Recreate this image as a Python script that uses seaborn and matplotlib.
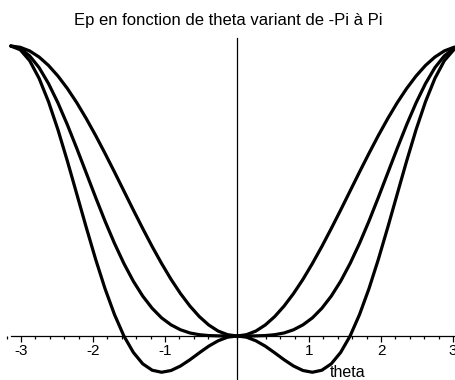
import numpy as np
import pandas as pd
import matplotlib
matplotlib.use("Agg")
import matplotlib.pyplot as plt
import seaborn as sns
from matplotlib.ticker import MultipleLocator

# theta sampled every pi/24 from -pi to pi
theta = [k * np.pi / 24 for k in range(-24, 25)]

# potential energy for the three configurations (positive half, theta = 0 .. pi)
ep_a_half = [0.000, 0.009, 0.034, 0.076, 0.134, 0.207, 0.293, 0.391, 0.500, 0.617, 0.741, 0.869,
             1.000, 1.131, 1.259, 1.383, 1.500, 1.609, 1.707, 1.793, 1.866, 1.924, 1.966, 1.991, 2.000]
ep_b_half = [0.000, 0.000, 0.001, 0.003, 0.009, 0.021, 0.043, 0.077, 0.125, 0.191, 0.275, 0.378,
             0.500, 0.639, 0.792, 0.956, 1.125, 1.294, 1.457, 1.608, 1.741, 1.851, 1.932, 1.983, 2.000]
ep_c_half = [0.000, -0.008, -0.033, -0.070, -0.116, -0.164, -0.207, -0.238, -0.250, -0.236, -0.192, -0.113,
             0.000, 0.148, 0.326, 0.529, 0.750, 0.979, 1.207, 1.423, 1.616, 1.777, 1.899, 1.974, 2.000]

# the curves are even in theta: negative half is the mirror of the positive half
ep_a = ep_a_half[:0:-1] + ep_a_half
ep_b = ep_b_half[:0:-1] + ep_b_half
ep_c = ep_c_half[:0:-1] + ep_c_half

x_ticks = [-3, -2, -1, 1, 2, 3]
title = "Ep en fonction de theta variant de -Pi à Pi"
x_label = "theta"

df = pd.concat([
    pd.DataFrame({"theta": theta, "Ep": ep_a, "courbe": "a"}),
    pd.DataFrame({"theta": theta, "Ep": ep_b, "courbe": "b"}),
    pd.DataFrame({"theta": theta, "Ep": ep_c, "courbe": "c"}),
])

sns.set_theme(style="white")
plt.rcParams["font.family"] = ["Liberation Sans", "DejaVu Sans"]

W, H = 456, 380
fig = plt.figure(figsize=(W / 100, H / 100), dpi=100)
# axes placed in pixel terms: x-axis 336 px from the top, origin 237 px from the left
ax_top = 38
ax = fig.add_axes([0, 0, 1, (H - ax_top) / H])
px_x = 72.0
px_y = 145.0
ax.set_xlim(-237 / px_x, (W - 237) / px_x)
ax.set_ylim(-(H - 336) / px_y, (336 - ax_top) / px_y)

sns.lineplot(data=df, x="theta", y="Ep", hue="courbe", palette=["black"] * 3,
             estimator=None, legend=False, linewidth=2.3, ax=ax)

ax.set_xlabel("")
ax.set_ylabel("")
for s in ["top", "right"]:
    ax.spines[s].set_visible(False)
ax.spines["bottom"].set_position(("data", 0))
ax.spines["left"].set_position(("data", 0))
ax.spines["bottom"].set_bounds(-np.pi, ax.get_xlim()[1])
for s in ["bottom", "left"]:
    ax.spines[s].set_color("black")
    ax.spines[s].set_linewidth(0.9)

ax.set_xticks(x_ticks)
ax.set_xticklabels([str(t) for t in x_ticks], fontsize=11, color="black")
ax.xaxis.set_minor_locator(MultipleLocator(0.2))
ax.tick_params(axis="x", which="major", direction="out", length=4, width=0.9,
               color="black", pad=2, bottom=True)
ax.tick_params(axis="x", which="minor", direction="out", length=2, width=0.9,
               color="black", bottom=True)
ax.set_yticks([])

ax.text(1.29, -(377 - 336) / px_y, x_label, fontsize=11.5, ha="left", va="baseline",
        color="black")

fig.text(0.5, 1 - 20 / H, title, ha="center", va="center", fontsize=12, color="black")

fig.savefig("out.png", dpi=100)
